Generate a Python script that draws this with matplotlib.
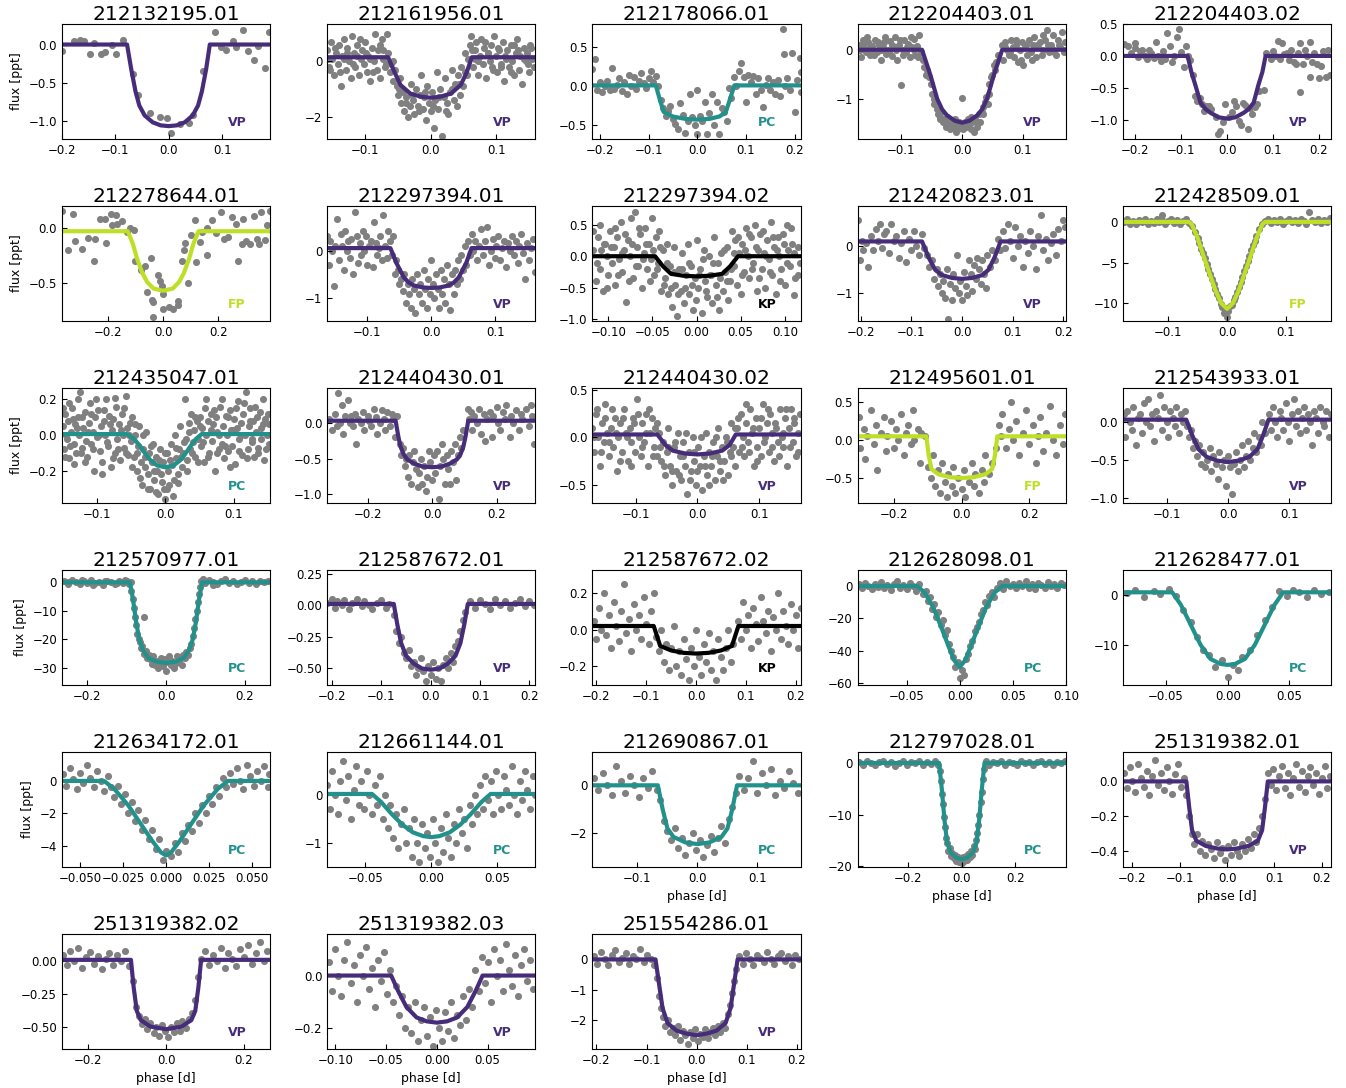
import numpy as np
import matplotlib.pyplot as plt
from matplotlib.ticker import MultipleLocator

# colours for the dispositions
cols = {'VP': '#472c7a', 'PC': '#21918c', 'FP': '#bddf26', 'KP': 'black'}

names = ['212132195.01', '212161956.01', '212178066.01', '212204403.01', '212204403.02',
         '212278644.01', '212297394.01', '212297394.02', '212420823.01', '212428509.01',
         '212435047.01', '212440430.01', '212440430.02', '212495601.01', '212543933.01',
         '212570977.01', '212587672.01', '212587672.02', '212628098.01', '212628477.01',
         '212634172.01', '212661144.01', '212690867.01', '212797028.01', '251319382.01',
         '251319382.02', '251319382.03', '251554286.01']
disp = ['VP', 'VP', 'PC', 'VP', 'VP', 'FP', 'VP', 'KP', 'VP', 'FP',
        'PC', 'VP', 'VP', 'FP', 'VP', 'PC', 'VP', 'KP', 'PC', 'PC',
        'PC', 'PC', 'PC', 'PC', 'VP', 'VP', 'VP', 'VP']

xlims = [(-0.2, 0.19), (-0.158, 0.16), (-0.215, 0.212), (-0.172, 0.171), (-0.227, 0.227),
         (-0.366, 0.387), (-0.163, 0.163), (-0.118, 0.118), (-0.206, 0.205), (-0.177, 0.177),
         (-0.151, 0.153), (-0.325, 0.32), (-0.17, 0.167), (-0.308, 0.308), (-0.171, 0.168),
         (-0.265, 0.265), (-0.21, 0.212), (-0.208, 0.21), (-0.096, 0.1), (-0.085, 0.084),
         (-0.0605, 0.0605), (-0.079, 0.079), (-0.175, 0.172), (-0.39, 0.39), (-0.22, 0.22),
         (-0.267, 0.267), (-0.108, 0.097), (-0.208, 0.208)]
ylims = [(-1.24, 0.27), (-2.8, 1.35), (-0.68, 0.8), (-1.8, 0.52), (-1.3, 0.5),
         (-0.845, 0.2), (-1.47, 0.93), (-1.03, 0.8), (-1.59, 0.84), (-12.2, 1.97),
         (-0.38, 0.265), (-1.12, 0.49), (-0.69, 0.52), (-0.83, 0.69), (-1.07, 0.45),
         (-36, 4.4), (-0.63, 0.28), (-0.305, 0.33), (-61, 10), (-18, 5),
         (-5.3, 1.8), (-1.5, 0.9), (-3.4, 1.4), (-20.2, 2.3), (-0.49, 0.17),
         (-0.67, 0.21), (-0.28, 0.16), (-2.95, 0.85)]
xsteps = [0.1, 0.1, 0.1, 0.1, 0.1, 0.2, 0.1, 0.05, 0.1, 0.1,
          0.1, 0.2, 0.1, 0.2, 0.1, 0.2, 0.1, 0.1, 0.05, 0.05,
          0.025, 0.05, 0.1, 0.2, 0.1, 0.2, 0.05, 0.1]
ysteps = [0.5, 2, 0.5, 1, 0.5, 0.5, 1, 0.5, 1, 5,
          0.2, 0.5, 0.5, 0.5, 0.5, 10, 0.25, 0.2, 20, 10,
          2, 1, 2, 10, 0.2, 0.25, 0.2, 1]

# model curves (phase, flux)
m01 = [(-0.2, 0), (-0.078, 0), (-0.07, -0.33), (-0.062, -0.62), (-0.055, -0.8), (-0.045, -0.93), (-0.03, -1.02),
       (-0.015, -1.06), (0, -1.07), (0.015, -1.06), (0.03, -1.02), (0.045, -0.93), (0.055, -0.8), (0.062, -0.62),
       (0.07, -0.33), (0.077, 0), (0.19, 0)]
m02 = [(-0.158, 0.15), (-0.065, 0.15), (-0.055, -0.4), (-0.046, -0.85), (-0.031, -1.16), (-0.015, -1.27), (0, -1.31),
       (0.015, -1.27), (0.031, -1.16), (0.046, -0.85), (0.055, -0.4), (0.063, 0.15), (0.16, 0.15)]
m03 = [(-0.215, 0.01), (-0.085, 0.01), (-0.077, -0.17), (-0.069, -0.33), (-0.05, -0.39), (-0.025, -0.42), (0, -0.43),
       (0.025, -0.42), (0.045, -0.39), (0.058, -0.34), (0.067, -0.17), (0.076, 0.01), (0.212, 0.01)]
m04 = [(-0.172, 0), (-0.066, 0), (-0.052, -0.52), (-0.041, -0.99), (-0.033, -1.2), (-0.025, -1.32), (-0.012, -1.43),
       (0, -1.47), (0.012, -1.43), (0.025, -1.32), (0.033, -1.2), (0.041, -0.99), (0.052, -0.52), (0.066, 0), (0.171, 0)]
m05 = [(-0.227, 0), (-0.086, 0), (-0.078, -0.25), (-0.069, -0.46), (-0.058, -0.73), (-0.047, -0.83), (-0.036, -0.89),
       (-0.018, -0.96), (0, -0.98), (0.018, -0.96), (0.036, -0.89), (0.047, -0.83), (0.058, -0.73), (0.068, -0.46),
       (0.077, -0.25), (0.084, 0), (0.227, 0)]
m06 = [(-0.366, -0.03), (-0.128, -0.03), (-0.11, -0.14), (-0.094, -0.28), (-0.075, -0.41), (-0.058, -0.49),
       (-0.035, -0.55), (0, -0.57), (0.035, -0.55), (0.058, -0.49), (0.075, -0.41), (0.094, -0.28), (0.11, -0.14),
       (0.128, -0.03), (0.387, -0.03)]
m07 = [(-0.163, 0.05), (-0.064, 0.05), (-0.055, -0.25), (-0.043, -0.56), (-0.035, -0.67), (-0.027, -0.73),
       (-0.013, -0.77), (0, -0.78), (0.013, -0.77), (0.027, -0.73), (0.035, -0.67), (0.043, -0.56), (0.055, -0.25),
       (0.063, 0.05), (0.163, 0.05)]
m08 = [(-0.118, 0), (-0.047, 0), (-0.038, -0.16), (-0.029, -0.28), (-0.015, -0.31), (0, -0.32), (0.015, -0.31),
       (0.029, -0.28), (0.038, -0.16), (0.047, 0), (0.118, 0)]
m09 = [(-0.206, 0.09), (-0.079, 0.09), (-0.066, -0.25), (-0.053, -0.51), (-0.04, -0.62), (-0.02, -0.68), (0, -0.7),
       (0.02, -0.68), (0.04, -0.62), (0.052, -0.51), (0.064, -0.25), (0.076, 0.09), (0.205, 0.09)]
m10 = [(-0.177, 0), (-0.065, 0), (-0.06, -0.3), (-0.05, -2.0), (-0.04, -4.2), (-0.03, -6.3), (-0.02, -8.4),
       (-0.01, -10.0), (0, -10.7), (0.01, -10.0), (0.02, -8.4), (0.03, -6.3), (0.04, -4.2), (0.05, -2.0),
       (0.06, -0.3), (0.065, 0), (0.177, 0)]
m11 = [(-0.151, 0.006), (-0.056, 0.006), (-0.046, -0.02), (-0.037, -0.06), (-0.03, -0.1), (-0.022, -0.14),
       (-0.012, -0.17), (0, -0.18), (0.012, -0.17), (0.022, -0.14), (0.03, -0.1), (0.037, -0.06), (0.045, -0.02),
       (0.053, 0.006), (0.153, 0.006)]
m12 = [(-0.325, 0.03), (-0.113, 0.03), (-0.105, -0.18), (-0.098, -0.33), (-0.088, -0.44), (-0.077, -0.51),
       (-0.055, -0.57), (-0.03, -0.61), (0, -0.62), (0.03, -0.61), (0.055, -0.57), (0.077, -0.51), (0.088, -0.44),
       (0.097, -0.33), (0.104, -0.18), (0.112, 0.03), (0.32, 0.03)]
m13 = [(-0.17, 0.03), (-0.065, 0.03), (-0.052, -0.08), (-0.04, -0.14), (-0.02, -0.17), (0, -0.18), (0.02, -0.17),
       (0.04, -0.14), (0.052, -0.08), (0.062, 0.03), (0.167, 0.03)]
m14 = [(-0.308, 0.05), (-0.105, 0.05), (-0.098, -0.2), (-0.09, -0.38), (-0.07, -0.45), (-0.035, -0.49), (0, -0.5),
       (0.035, -0.49), (0.07, -0.45), (0.09, -0.38), (0.098, -0.2), (0.105, 0.05), (0.308, 0.05)]
m15 = [(-0.171, 0.03), (-0.068, 0.03), (-0.058, -0.18), (-0.048, -0.36), (-0.035, -0.46), (-0.018, -0.51), (0, -0.53),
       (0.018, -0.51), (0.035, -0.46), (0.048, -0.36), (0.057, -0.18), (0.066, 0.03), (0.168, 0.03)]
m16 = [(-0.265, 0), (-0.092, 0), (-0.084, -6), (-0.076, -14), (-0.068, -20), (-0.058, -24), (-0.045, -26.5),
       (-0.025, -27.8), (0, -28.3), (0.025, -27.8), (0.045, -26.5), (0.058, -24), (0.068, -20), (0.076, -14),
       (0.084, -6), (0.092, 0), (0.265, 0)]
m17 = [(-0.21, 0.01), (-0.075, 0.01), (-0.068, -0.15), (-0.06, -0.3), (-0.05, -0.4), (-0.035, -0.46), (-0.018, -0.5),
       (0, -0.51), (0.018, -0.5), (0.035, -0.46), (0.05, -0.4), (0.06, -0.3), (0.068, -0.15), (0.075, 0.01),
       (0.212, 0.01)]
m18 = [(-0.208, 0.02), (-0.085, 0.02), (-0.072, -0.09), (-0.05, -0.115), (-0.025, -0.128), (0, -0.132),
       (0.025, -0.128), (0.05, -0.115), (0.072, -0.09), (0.085, 0.02), (0.21, 0.02)]
m19 = [(-0.096, 0), (-0.04, 0), (-0.033, -4), (-0.025, -13), (-0.017, -26), (-0.01, -38), (-0.005, -46), (0, -50),
       (0.005, -46), (0.01, -38), (0.017, -26), (0.025, -13), (0.033, -4), (0.04, 0), (0.1, 0)]
m20 = [(-0.085, 0.5), (-0.045, 0.5), (-0.038, -2), (-0.03, -6), (-0.022, -10), (-0.014, -12.8), (-0.006, -13.8),
       (0, -14), (0.006, -13.8), (0.014, -12.8), (0.022, -10), (0.03, -6), (0.038, -2), (0.045, 0.5), (0.084, 0.5)]
m21 = [(-0.0605, 0), (-0.036, 0), (-0.03, -0.5), (-0.022, -1.5), (-0.015, -2.6), (-0.008, -3.7), (-0.003, -4.4),
       (0, -4.6), (0.003, -4.4), (0.008, -3.7), (0.015, -2.6), (0.022, -1.5), (0.03, -0.5), (0.036, 0), (0.0605, 0)]
m22 = [(-0.079, 0.02), (-0.045, 0.02), (-0.038, -0.15), (-0.03, -0.4), (-0.022, -0.62), (-0.014, -0.78),
       (-0.006, -0.86), (0, -0.88), (0.006, -0.86), (0.014, -0.78), (0.022, -0.62), (0.03, -0.4), (0.038, -0.15),
       (0.045, 0.02), (0.079, 0.02)]
m23 = [(-0.175, 0), (-0.066, 0), (-0.058, -1.0), (-0.05, -1.8), (-0.04, -2.15), (-0.02, -2.38), (0, -2.45),
       (0.02, -2.38), (0.04, -2.15), (0.05, -1.8), (0.058, -1.0), (0.066, 0), (0.172, 0)]
m24 = [(-0.39, 0.1), (-0.085, 0.1), (-0.075, -5), (-0.065, -11), (-0.055, -15.5), (-0.04, -17.5), (-0.02, -18.4),
       (0, -18.7), (0.02, -18.4), (0.04, -17.5), (0.055, -15.5), (0.065, -11), (0.075, -5), (0.085, 0.1), (0.39, 0.1)]
m25 = [(-0.22, 0), (-0.086, 0), (-0.08, -0.15), (-0.074, -0.28), (-0.065, -0.34), (-0.045, -0.37), (-0.02, -0.385),
       (0, -0.39), (0.02, -0.385), (0.045, -0.37), (0.065, -0.34), (0.074, -0.28), (0.08, -0.15), (0.086, 0),
       (0.22, 0)]
m26 = [(-0.267, 0.01), (-0.09, 0.01), (-0.083, -0.2), (-0.075, -0.38), (-0.065, -0.45), (-0.04, -0.5), (0, -0.52),
       (0.04, -0.5), (0.065, -0.45), (0.075, -0.38), (0.083, -0.2), (0.09, 0.01), (0.267, 0.01)]
m27 = [(-0.108, 0.0), (-0.045, 0.0), (-0.038, -0.06), (-0.03, -0.12), (-0.02, -0.16), (-0.01, -0.175), (0, -0.18),
       (0.01, -0.175), (0.02, -0.16), (0.03, -0.12), (0.038, -0.06), (0.045, 0.0), (0.097, 0.0)]
m28 = [(-0.208, 0), (-0.082, 0), (-0.075, -0.8), (-0.068, -1.6), (-0.058, -2.1), (-0.04, -2.35), (-0.02, -2.45),
       (0, -2.5), (0.02, -2.45), (0.04, -2.35), (0.058, -2.1), (0.068, -1.6), (0.075, -0.8), (0.082, 0), (0.208, 0)]

# folded photometry (phase, flux)
p01 = [(-0.2, -0.09), (-0.178, 0.04), (-0.167, 0.06), (-0.158, 0.05), (-0.147, -0.13), (-0.139, 0.02), (-0.127, -0.13),
       (-0.119, -0.1), (-0.106, -0.01), (-0.098, -0.12), (-0.085, 0.06), (-0.066, -0.38), (-0.058, -0.66), (-0.035, -0.9),
       (-0.017, -0.95), (-0.003, -0.96), (0.004, -1.16), (0.022, -1.04), (0.038, -1.03), (0.045, -0.92), (0.065, -0.35),
       (0.086, 0.17), (0.098, -0.03), (0.107, -0.07), (0.12, 0.05), (0.127, -0.03), (0.14, 0.19), (0.148, -0.09),
       (0.168, -0.02), (0.16, -0.2), (0.18, -0.31), (0.188, 0.16)]
p02 = [(-0.158, 0.4), (-0.155, -0.2), (-0.152, 0.7), (-0.15, 0.1), (-0.148, -0.5), (-0.145, 0.3), (-0.142, -0.1),
       (-0.14, 0.6), (-0.137, -0.9), (-0.135, 0.2), (-0.132, 0.8), (-0.13, -0.3), (-0.127, 0.5), (-0.125, 0.0),
       (-0.122, -0.6), (-0.12, 0.9), (-0.117, 0.3), (-0.115, -0.2), (-0.112, 0.6), (-0.11, -0.5), (-0.107, 0.1),
       (-0.105, 0.4), (-0.102, -0.1), (-0.1, 0.7), (-0.097, -0.4), (-0.095, 0.2), (-0.092, -0.7), (-0.09, 0.5),
       (-0.087, 0.0), (-0.085, 1.0), (-0.082, -0.3), (-0.08, 0.4), (-0.077, -0.6), (-0.075, 0.8), (-0.072, 0.1),
       (-0.07, -0.2), (-0.067, 1.0), (-0.065, 0.3), (-0.062, -0.4), (-0.06, -0.1), (-0.057, -0.7), (-0.055, -0.3),
       (-0.052, -0.9), (-0.05, -1.2), (-0.047, -0.6), (-0.045, -1.5), (-0.042, -1.1), (-0.04, -1.8), (-0.037, -1.3),
       (-0.035, -2.0), (-0.032, -1.6), (-0.03, -0.8), (-0.027, -1.4), (-0.025, -1.9), (-0.022, -1.0), (-0.02, -1.6),
       (-0.017, -1.2), (-0.015, -0.5), (-0.012, -1.7), (-0.01, -1.3), (-0.007, -2.1), (-0.005, -0.9), (-0.002, -1.5),
       (0.0, -1.8), (0.002, -1.1), (0.005, -2.4), (0.007, -1.4), (0.01, -0.4), (0.012, -1.7), (0.015, -1.0),
       (0.017, -2.7), (0.02, -1.3), (0.022, -0.6), (0.025, -1.5), (0.027, -1.9), (0.03, -1.1), (0.032, -0.3),
       (0.035, -1.4), (0.037, -0.8), (0.04, -1.6), (0.042, -0.5), (0.045, -1.2), (0.047, -0.2), (0.05, -0.9),
       (0.052, 0.3), (0.055, -0.5), (0.057, 0.1), (0.06, 0.6), (0.062, 0.9), (0.065, -0.2), (0.067, 0.4), (0.07, 0.7),
       (0.072, -0.5), (0.075, 0.2), (0.077, 0.8), (0.08, -0.1), (0.082, 0.5), (0.085, -0.6), (0.087, 0.3), (0.09, 0.0),
       (0.092, 0.6), (0.095, -0.3), (0.097, 0.9), (0.1, 0.2), (0.102, -0.4), (0.105, 0.4), (0.107, -0.1), (0.11, 0.7),
       (0.112, -0.7), (0.115, 0.1), (0.117, 0.4), (0.12, -0.2), (0.122, 0.6), (0.125, 0.0), (0.127, -0.5), (0.13, 0.3),
       (0.132, 0.8), (0.135, -0.3), (0.137, 0.2), (0.14, -0.8), (0.142, 0.5), (0.145, 0.0), (0.147, 0.3), (0.15, -0.4),
       (0.152, 0.6), (0.155, 0.1), (0.158, -0.2),
       (-0.156, 0.1), (-0.146, 0.5), (-0.138, -0.4), (-0.128, 0.3), (-0.118, -0.1), (-0.108, 0.8), (-0.098, 0.3),
       (-0.088, -0.4), (-0.078, 0.6), (-0.068, -0.1), (-0.058, 0.0), (-0.048, -1.0), (-0.038, -1.5), (-0.028, -1.2),
       (-0.018, -1.8), (-0.008, -1.1), (0.003, -1.6), (0.013, -1.3), (0.023, -1.8), (0.033, -1.0), (0.043, -0.8),
       (0.053, -0.4), (0.063, 0.4), (0.073, 0.0), (0.083, 0.7), (0.093, -0.2), (0.103, 0.5), (0.113, 0.2),
       (0.123, -0.4), (0.133, 0.4), (0.143, 0.1), (0.153, 0.5), (-0.153, -0.3), (-0.133, 0.1), (-0.113, 0.2),
       (-0.093, 0.1), (-0.073, 0.4), (0.068, 0.1), (0.088, 0.3), (0.108, -0.2), (0.128, 0.6), (0.148, -0.1)]
p03 = [(-0.215, 0.22), (-0.21, 0.35), (-0.205, -0.05), (-0.2, 0.05), (-0.195, -0.08), (-0.19, 0.0), (-0.185, 0.07),
       (-0.18, -0.05), (-0.175, 0.23), (-0.17, -0.03), (-0.165, 0.02), (-0.16, 0.1), (-0.155, -0.06), (-0.15, 0.05),
       (-0.145, -0.1), (-0.14, 0.15), (-0.135, 0.0), (-0.13, 0.12), (-0.125, -0.04), (-0.12, 0.07), (-0.115, 0.17),
       (-0.11, 0.04), (-0.105, -0.02), (-0.1, 0.1), (-0.095, 0.19), (-0.09, 0.05), (-0.085, 0.13), (-0.08, 0.0),
       (-0.075, -0.18), (-0.07, -0.28), (-0.065, -0.38), (-0.06, -0.32), (-0.055, -0.25), (-0.05, -0.42),
       (-0.045, -0.48), (-0.04, -0.55), (-0.035, -0.22), (-0.03, -0.37), (-0.025, -0.6), (-0.02, -0.45), (-0.015, -0.1),
       (-0.01, -0.4), (-0.005, -0.5), (0.0, -0.05), (0.0, -0.62), (0.005, -0.38), (0.01, -0.45), (0.015, -0.2),
       (0.02, -0.62), (0.025, -0.35), (0.03, -0.1), (0.035, -0.5), (0.04, -0.2), (0.045, -0.62), (0.05, -0.28),
       (0.055, -0.33), (0.06, -0.45), (0.065, -0.02), (0.07, -0.15), (0.075, 0.12), (0.08, 0.0), (0.085, 0.2),
       (0.09, 0.3), (0.095, 0.12), (0.1, -0.2), (0.105, 0.15), (0.11, 0.05), (0.115, 0.13), (0.12, -0.1), (0.125, 0.1),
       (0.13, -0.05), (0.135, -0.27), (0.14, 0.02), (0.145, 0.1), (0.15, -0.05), (0.155, 0.05), (0.16, -0.1),
       (0.165, 0.08), (0.17, -0.12), (0.175, 0.73), (0.178, 0.42), (0.18, 0.0), (0.185, 0.1), (0.19, -0.05),
       (0.195, 0.43), (0.2, -0.33), (0.205, 0.08), (0.21, 0.36), (0.212, 0.18), (0.212, -0.08)]
p04 = [(-0.17, 0.1), (-0.167, -0.15), (-0.164, 0.2), (-0.161, 0.02), (-0.158, -0.05), (-0.155, 0.15), (-0.152, -0.1),
       (-0.149, 0.08), (-0.146, 0.0), (-0.143, 0.2), (-0.14, -0.05), (-0.137, 0.1), (-0.134, -0.2), (-0.131, 0.05),
       (-0.128, 0.15), (-0.125, -0.08), (-0.122, 0.0), (-0.119, 0.18), (-0.116, -0.12), (-0.113, 0.05), (-0.11, 0.25),
       (-0.107, -0.2), (-0.104, 0.1), (-0.101, -0.72), (-0.098, 0.0), (-0.095, 0.2), (-0.092, -0.05), (-0.089, 0.12),
       (-0.086, -0.15), (-0.083, 0.05), (-0.08, 0.22), (-0.077, -0.1), (-0.074, 0.08), (-0.071, 0.3), (-0.068, -0.05),
       (-0.065, -0.2), (-0.062, -0.35), (-0.058, -0.4), (-0.055, -0.55), (-0.052, -0.7), (-0.05, -0.9), (-0.047, -1.1),
       (-0.045, -1.05), (-0.042, -1.2), (-0.04, -1.3), (-0.037, -1.35), (-0.035, -1.25), (-0.032, -1.45), (-0.03, -1.4),
       (-0.027, -1.55), (-0.025, -1.35), (-0.022, -1.5), (-0.02, -1.6), (-0.017, -1.45), (-0.015, -1.55),
       (-0.012, -1.4), (-0.01, -1.65), (-0.007, -1.5), (-0.005, -1.45), (-0.002, -1.55), (0.0, -0.98), (0.002, -1.6),
       (0.005, -1.45), (0.007, -1.55), (0.01, -1.4), (0.012, -1.5), (0.015, -1.35), (0.017, -1.45), (0.02, -1.65),
       (0.022, -1.4), (0.025, -1.55), (0.027, -1.3), (0.03, -1.45), (0.032, -1.25), (0.035, -1.15), (0.037, -1.05),
       (0.04, -0.95), (0.042, -1.1), (0.045, -0.7), (0.048, -0.55), (0.05, -0.5), (0.053, -0.3), (0.056, -0.25),
       (0.059, -0.1), (0.065, 0.1), (0.068, -0.2), (0.071, 0.15), (0.074, 0.0), (0.077, -0.1), (0.08, 0.2),
       (0.083, 0.05), (0.086, -0.15), (0.089, 0.1), (0.092, -0.25), (0.095, 0.0), (0.098, 0.15), (0.101, -0.3),
       (0.104, 0.05), (0.107, -0.1), (0.11, 0.2), (0.113, -0.05), (0.116, 0.1), (0.119, 0.25), (0.122, -0.15),
       (0.125, 0.05), (0.128, 0.15), (0.131, -0.1), (0.134, 0.0), (0.137, 0.2), (0.14, 0.4), (0.143, -0.05),
       (0.146, 0.1), (0.149, 0.3), (0.152, 0.0), (0.155, -0.1), (0.158, 0.2), (0.161, 0.05), (0.164, 0.35),
       (0.167, -0.05), (0.17, 0.15),
       (-0.169, 0.0), (-0.163, 0.1), (-0.157, 0.25), (-0.151, 0.05), (-0.145, -0.1), (-0.139, 0.15), (-0.133, 0.0),
       (-0.127, 0.25), (-0.121, -0.05), (-0.115, 0.1), (-0.109, 0.0), (-0.103, 0.2), (-0.097, -0.1), (-0.091, 0.05),
       (-0.085, 0.25), (-0.079, 0.0), (-0.073, -0.15), (-0.06, -0.5), (-0.046, -1.0), (-0.036, -1.4), (-0.026, -1.4),
       (-0.016, -1.5), (-0.006, -1.6), (0.004, -1.5), (0.014, -1.6), (0.024, -1.45), (0.034, -1.3), (0.044, -0.9),
       (0.054, -0.4), (0.07, 0.05), (0.079, -0.05), (0.088, 0.2), (0.097, -0.2), (0.106, 0.1), (0.115, -0.2),
       (0.124, 0.1), (0.133, 0.3), (0.142, 0.1), (0.151, -0.05), (0.16, 0.1), (0.169, 0.0)]
p05 = [(-0.225, 0.18), (-0.215, 0.15), (-0.21, 0.05), (-0.2, 0.12), (-0.2, 0.2), (-0.195, -0.02), (-0.19, 0.08),
       (-0.185, 0.1), (-0.18, 0.0), (-0.175, -0.05), (-0.17, 0.1), (-0.165, 0.05), (-0.16, -0.03), (-0.155, 0.22),
       (-0.15, 0.0), (-0.145, -0.08), (-0.14, 0.07), (-0.135, -0.05), (-0.13, 0.36), (-0.125, 0.15), (-0.12, -0.1),
       (-0.115, 0.0), (-0.11, 0.29), (-0.105, 0.42), (-0.1, 0.06), (-0.095, -0.18), (-0.09, 0.16), (-0.085, 0.0),
       (-0.08, -0.06), (-0.075, -0.3), (-0.07, -0.62), (-0.065, -0.7), (-0.06, -0.66), (-0.055, -0.75), (-0.05, -0.86),
       (-0.045, -0.78), (-0.04, -0.78), (-0.035, -0.83), (-0.025, -0.96), (-0.02, -1.22), (-0.015, -1.18),
       (-0.01, -1.04), (-0.005, -0.75), (0.005, -0.95), (0.01, -0.88), (0.015, -0.7), (0.02, -0.78), (0.025, -1.02),
       (0.03, -1.08), (0.035, -0.73), (0.04, -0.76), (0.045, -1.15), (0.05, -0.82), (0.055, -0.9), (0.06, -0.8),
       (0.065, -0.75), (0.07, -0.55), (0.08, -0.53), (0.085, 0.05), (0.095, -0.05), (0.1, 0.08), (0.105, 0.0),
       (0.11, 0.24), (0.115, -0.05), (0.12, 0.2), (0.125, 0.03), (0.13, 0.05), (0.135, -0.07), (0.14, 0.1),
       (0.145, -0.1), (0.15, -0.12), (0.155, 0.05), (0.16, -0.56), (0.16, 0.2), (0.165, -0.13), (0.17, 0.1),
       (0.175, 0.0), (0.18, 0.22), (0.18, -0.33), (0.185, -0.1), (0.19, 0.05), (0.195, -0.12), (0.2, -0.35),
       (0.205, -0.15), (0.21, 0.08), (0.215, -0.33), (0.22, 0.1), (0.225, -0.3)]
p06 = [(-0.366, 0.15), (-0.345, -0.2), (-0.325, 0.13), (-0.32, -0.12), (-0.295, -0.19), (-0.27, -0.09), (-0.25, -0.3),
       (-0.245, -0.1), (-0.23, 0.08), (-0.21, 0.08), (-0.205, -0.14), (-0.19, 0.13), (-0.185, 0.03), (-0.17, 0.12),
       (-0.165, 0.04), (-0.15, 0.06), (-0.13, -0.04), (-0.12, 0.0), (-0.105, -0.02), (-0.1, -0.3), (-0.08, -0.38),
       (-0.065, -0.35), (-0.06, -0.58), (-0.045, -0.27), (-0.04, -0.65), (-0.035, -0.67), (-0.035, -0.81),
       (-0.02, -0.43), (-0.01, -0.48), (-0.005, -0.53), (0.0, -0.6), (0.0, -0.74), (0.02, -0.72), (0.035, -0.74),
       (0.055, -0.66), (0.055, -0.7), (0.07, -0.3), (0.075, -0.2), (0.08, -0.14), (0.09, -0.5), (0.1, -0.06),
       (0.115, 0.07), (0.12, -0.31), (0.135, -0.13), (0.14, -0.04), (0.16, 0.0), (0.16, -0.25), (0.175, 0.07),
       (0.19, -0.05), (0.21, 0.14), (0.22, -0.1), (0.235, -0.08), (0.25, 0.1), (0.265, 0.04), (0.27, -0.3),
       (0.285, -0.15), (0.29, 0.08), (0.3, -0.12), (0.315, -0.15), (0.33, 0.11), (0.34, -0.1), (0.345, -0.15),
       (0.355, 0.14), (0.37, -0.11), (0.375, 0.03), (0.385, 0.15)]
p07 = [(-0.163, 0.3), (-0.16, -0.3), (-0.158, 0.2), (-0.155, 0.0), (-0.152, -0.75), (-0.15, 0.1), (-0.148, 0.65),
       (-0.145, -0.2), (-0.142, 0.35), (-0.14, 0.1), (-0.137, -0.4), (-0.135, 0.4), (-0.132, 0.0), (-0.13, 0.2),
       (-0.127, -0.15), (-0.125, 0.25), (-0.122, -0.5), (-0.12, 0.8), (-0.117, 0.3), (-0.115, -0.25), (-0.112, 0.15),
       (-0.11, -0.1), (-0.107, 0.4), (-0.105, 0.0), (-0.102, 0.3), (-0.1, -0.3), (-0.097, 0.1), (-0.095, 0.2),
       (-0.092, -0.35), (-0.09, 0.6), (-0.087, 0.15), (-0.085, -0.1), (-0.082, 0.05), (-0.08, 0.3), (-0.077, -0.2),
       (-0.075, 0.75), (-0.072, 0.1), (-0.07, -0.15), (-0.067, 0.4), (-0.065, 0.2), (-0.062, -0.1), (-0.06, 0.3),
       (-0.057, -0.5), (-0.055, -0.2), (-0.052, -0.4), (-0.05, -0.7), (-0.047, -0.6), (-0.045, -0.85), (-0.042, -0.5),
       (-0.04, -1.1), (-0.037, -0.7), (-0.035, -0.9), (-0.032, -1.2), (-0.03, -0.6), (-0.027, -0.8), (-0.025, -1.3),
       (-0.022, -0.5), (-0.02, -0.9), (-0.017, -0.7), (-0.015, -1.1), (-0.012, -0.4), (-0.01, -0.8), (-0.007, -1.2),
       (-0.005, -0.6), (-0.002, -0.9), (0.0, -0.2), (0.002, -0.7), (0.005, -1.0), (0.007, -0.5), (0.01, -0.8),
       (0.012, -1.2), (0.015, -0.4), (0.017, -0.9), (0.02, -0.6), (0.022, -1.1), (0.025, -0.3), (0.027, -0.7),
       (0.03, -1.25), (0.032, -0.5), (0.035, -0.9), (0.037, -0.4), (0.04, -0.7), (0.042, -0.2), (0.045, -0.6),
       (0.047, -0.1), (0.05, -0.4), (0.052, 0.1), (0.055, -0.3), (0.057, 0.2), (0.06, -0.1), (0.063, 0.35),
       (0.066, 0.0), (0.069, 0.2), (0.072, -0.2), (0.075, 0.1), (0.078, 0.45), (0.081, -0.1), (0.084, 0.2),
       (0.087, 0.5), (0.09, -0.3), (0.093, 0.0), (0.096, 0.25), (0.099, -0.15), (0.102, 0.1), (0.105, 0.3),
       (0.108, -0.2), (0.111, 0.05), (0.114, 0.2), (0.117, -0.35), (0.12, 0.15), (0.123, 0.0), (0.126, 0.3),
       (0.129, -0.1), (0.132, 0.2), (0.135, -0.25), (0.138, 0.1), (0.141, 0.35), (0.144, -0.05), (0.147, -0.6),
       (0.15, 0.15), (0.153, -0.2), (0.156, 0.05), (0.159, 0.25), (0.162, -0.45)]
p08 = [(-0.117, 0.1), (-0.114, -0.4), (-0.112, 0.3), (-0.11, -0.2), (-0.108, 0.1), (-0.106, -0.55), (-0.104, 0.2),
       (-0.102, 0.0), (-0.1, -0.3), (-0.098, 0.4), (-0.096, -0.1), (-0.094, 0.15), (-0.092, -0.45), (-0.09, 0.3),
       (-0.088, -0.05), (-0.086, 0.55), (-0.084, -0.25), (-0.082, 0.1), (-0.08, -0.72), (-0.078, 0.25), (-0.076, 0.0),
       (-0.074, 0.6), (-0.072, -0.35), (-0.07, 0.7), (-0.068, 0.15), (-0.066, -0.15), (-0.064, 0.35), (-0.062, -0.5),
       (-0.06, 0.05), (-0.058, 0.45), (-0.056, -0.2), (-0.054, 0.2), (-0.052, -0.05), (-0.05, 0.6), (-0.048, -0.3),
       (-0.046, 0.3), (-0.044, -0.1), (-0.042, 0.4), (-0.04, -0.55), (-0.038, 0.1), (-0.036, -0.35), (-0.034, 0.2),
       (-0.032, -0.6), (-0.03, -0.15), (-0.028, -0.8), (-0.026, 0.15), (-0.024, -0.45), (-0.022, -0.95), (-0.02, -0.2),
       (-0.018, -0.55), (-0.016, 0.05), (-0.014, -0.75), (-0.012, -0.3), (-0.01, 0.2), (-0.008, -0.6), (-0.006, -0.15),
       (-0.004, -0.85), (-0.002, -0.35), (0.0, 0.25), (0.002, -0.5), (0.004, -0.2), (0.006, -0.9), (0.008, 0.1),
       (0.01, -0.4), (0.012, -0.65), (0.014, 0.0), (0.016, -0.3), (0.018, -0.75), (0.02, 0.3), (0.022, -0.45),
       (0.024, -0.1), (0.026, -0.85), (0.028, 0.05), (0.03, -0.55), (0.032, -0.25), (0.034, 0.15), (0.036, -0.7),
       (0.038, -0.4), (0.04, 0.4), (0.042, -0.15), (0.044, 0.25), (0.046, -0.45), (0.048, 0.05), (0.05, -0.6),
       (0.052, 0.2), (0.054, -0.25), (0.056, 0.45), (0.058, 0.0), (0.06, -0.35), (0.062, 0.3), (0.064, -0.1),
       (0.066, 0.5), (0.068, -0.55), (0.07, 0.1), (0.072, 0.35), (0.074, -0.2), (0.076, 0.05), (0.078, -0.5),
       (0.08, 0.25), (0.082, -0.05), (0.084, 0.55), (0.086, -0.3), (0.088, 0.15), (0.09, -0.6), (0.092, 0.3),
       (0.094, 0.0), (0.096, -0.2), (0.098, 0.35), (0.1, -0.45), (0.102, 0.5), (0.104, 0.1), (0.106, -0.15),
       (0.108, 0.2), (0.11, -0.62), (0.112, -0.35), (0.115, 0.15), (0.117, -0.1),
       (-0.117, 0.4), (-0.113, -0.1), (-0.109, 0.5), (-0.105, 0.2), (-0.101, -0.5), (-0.097, 0.15), (-0.093, 0.45),
       (-0.089, -0.3), (-0.085, 0.05), (-0.081, 0.35), (-0.077, -0.4), (-0.073, 0.2), (-0.069, -0.15), (-0.065, 0.45),
       (-0.061, -0.05), (-0.057, 0.2), (-0.053, -0.4), (-0.049, 0.1), (-0.045, -0.2), (-0.041, 0.15), (-0.037, -0.45),
       (-0.033, -0.1), (-0.029, -0.5), (-0.025, -0.25), (-0.021, -0.6), (-0.017, -0.2), (-0.013, -0.5), (-0.009, -0.1),
       (-0.005, -0.45), (-0.001, -0.7), (0.003, -0.3), (0.007, -0.05), (0.011, -0.55), (0.015, -0.3), (0.019, -0.1),
       (0.023, -0.65), (0.027, -0.35), (0.031, 0.1), (0.035, -0.4), (0.039, -0.2), (0.043, 0.05), (0.047, 0.3),
       (0.051, -0.3), (0.055, 0.1), (0.059, 0.35), (0.063, -0.2), (0.067, 0.15), (0.071, -0.35), (0.075, 0.4),
       (0.079, 0.0), (0.083, -0.25), (0.087, 0.3), (0.091, 0.1), (0.095, -0.4), (0.099, 0.2), (0.103, -0.1),
       (0.107, 0.45), (0.111, 0.05), (0.115, -0.3)]
p09 = [(-0.205, 0.55), (-0.202, -0.3), (-0.198, 0.1), (-0.195, -0.1), (-0.19, 0.05), (-0.185, -0.45), (-0.18, 0.2),
       (-0.175, -0.1), (-0.17, 0.35), (-0.165, 0.1), (-0.162, 0.45), (-0.158, -0.05), (-0.155, 0.25), (-0.15, 0.3),
       (-0.145, -0.15), (-0.14, 0.45), (-0.135, 0.1), (-0.13, 0.2), (-0.125, -0.25), (-0.12, 0.05), (-0.115, 0.3),
       (-0.11, -0.35), (-0.105, 0.15), (-0.1, -0.1), (-0.095, 0.3), (-0.09, 0.0), (-0.085, -0.2), (-0.08, 0.25),
       (-0.075, -0.05), (-0.07, -0.2), (-0.065, -0.45), (-0.06, -0.3), (-0.055, -0.7), (-0.05, -0.5), (-0.047, -0.85),
       (-0.044, -0.6), (-0.04, -1.0), (-0.037, -0.75), (-0.034, -1.1), (-0.03, -0.5), (-0.027, -1.55), (-0.024, -0.8),
       (-0.02, -1.15), (-0.017, -0.6), (-0.014, -0.9), (-0.01, -0.2), (-0.007, -1.0), (-0.004, -0.75), (0.0, -1.15),
       (0.004, -0.55), (0.007, -0.85), (0.01, -1.05), (0.014, -0.3), (0.017, -0.6), (0.02, -0.95), (0.024, -0.4),
       (0.027, -0.7), (0.03, -0.25), (0.034, -0.5), (0.037, -0.8), (0.04, -0.3), (0.044, -0.6), (0.047, -0.9),
       (0.05, -0.2), (0.055, -0.45), (0.06, -0.1), (0.065, -0.3), (0.07, 0.15), (0.075, -0.1), (0.08, 0.3),
       (0.085, -0.05), (0.09, 0.45), (0.095, 0.1), (0.1, -0.25), (0.105, 0.4), (0.11, 0.0), (0.115, 0.2),
       (0.12, -0.45), (0.125, 0.1), (0.13, -0.15), (0.135, 0.3), (0.14, 0.0), (0.145, -0.5), (0.15, 0.2),
       (0.155, 0.65), (0.16, -0.1), (0.165, 0.15), (0.17, -0.3), (0.175, 0.05), (0.18, 0.25), (0.185, -0.2),
       (0.19, 0.35), (0.195, 0.1), (0.2, 0.55), (0.204, 0.4)]
p10 = [(-0.175, 0.0), (-0.17, 0.3), (-0.165, -0.2), (-0.16, 0.1), (-0.155, -0.3), (-0.15, 0.2), (-0.145, 0.0),
       (-0.14, 0.3), (-0.135, -0.2), (-0.13, 0.1), (-0.125, -0.1), (-0.12, 0.4), (-0.115, 0.0), (-0.11, 0.2),
       (-0.105, -0.3), (-0.1, 0.1), (-0.095, 0.3), (-0.09, -0.1), (-0.085, 0.2), (-0.08, -0.2), (-0.075, 0.1),
       (-0.07, 0.3), (-0.065, -0.1), (-0.06, -0.5), (-0.055, -1.2), (-0.05, -2.0), (-0.047, -2.6), (-0.044, -3.3),
       (-0.041, -3.8), (-0.038, -4.5), (-0.035, -5.2), (-0.032, -5.8), (-0.029, -6.4), (-0.026, -7.0), (-0.023, -7.6),
       (-0.02, -8.3), (-0.017, -8.9), (-0.014, -9.4), (-0.011, -10.1), (-0.008, -10.5), (-0.005, -11.2),
       (-0.002, -10.6), (0.0, -11.7), (0.002, -11.0), (0.005, -10.4), (0.008, -10.2), (0.011, -9.6), (0.014, -9.2),
       (0.017, -8.6), (0.02, -8.0), (0.023, -7.4), (0.026, -6.8), (0.029, -6.1), (0.032, -5.4), (0.035, -4.8),
       (0.038, -4.2), (0.041, -3.5), (0.044, -2.9), (0.047, -2.3), (0.05, -1.7), (0.055, -0.9), (0.06, -0.3),
       (0.065, 0.1), (0.07, 0.3), (0.075, -0.1), (0.08, 0.2), (0.085, 0.0), (0.09, 0.3), (0.095, -0.2), (0.1, 0.1),
       (0.105, 0.4), (0.11, 0.0), (0.115, 0.2), (0.12, -0.1), (0.125, 0.3), (0.13, 0.1), (0.135, -0.2), (0.14, 1.2),
       (0.145, 0.2), (0.15, 0.0), (0.155, 0.3), (0.16, -0.1), (0.165, 0.2), (0.17, 0.0), (0.175, 0.5), (-0.11, 0.9)]
p11 = [(-0.15, 0.05), (-0.148, -0.08), (-0.146, 0.12), (-0.144, -0.02), (-0.142, 0.08), (-0.14, -0.13),
       (-0.138, 0.02), (-0.136, 0.15), (-0.134, -0.05), (-0.132, 0.06), (-0.13, -0.1), (-0.128, 0.1), (-0.126, 0.0),
       (-0.124, 0.24), (-0.122, -0.07), (-0.12, 0.04), (-0.118, 0.13), (-0.116, -0.03), (-0.114, -0.12),
       (-0.112, 0.07), (-0.11, 0.18), (-0.108, -0.05), (-0.106, 0.02), (-0.104, -0.2), (-0.102, 0.1), (-0.1, -0.01),
       (-0.098, 0.14), (-0.096, -0.09), (-0.094, 0.05), (-0.092, -0.15), (-0.09, 0.08), (-0.088, 0.0), (-0.086, 0.2),
       (-0.084, -0.06), (-0.082, 0.11), (-0.08, -0.18), (-0.078, 0.03), (-0.076, 0.09), (-0.074, -0.1),
       (-0.072, 0.16), (-0.07, -0.02), (-0.068, 0.06), (-0.066, -0.14), (-0.064, 0.12), (-0.062, 0.0), (-0.06, -0.07),
       (-0.058, 0.22), (-0.056, 0.04), (-0.054, -0.11), (-0.052, 0.07), (-0.05, -0.03), (-0.048, 0.1),
       (-0.046, -0.12), (-0.044, 0.0), (-0.042, -0.2), (-0.04, -0.06), (-0.038, 0.05), (-0.036, -0.15),
       (-0.034, -0.28), (-0.032, -0.08), (-0.03, -0.18), (-0.028, 0.02), (-0.026, -0.22), (-0.024, -0.1),
       (-0.022, -0.3), (-0.02, -0.15), (-0.018, -0.05), (-0.016, -0.25), (-0.014, -0.12), (-0.012, -0.2),
       (-0.01, -0.33), (-0.008, -0.08), (-0.006, -0.22), (-0.004, -0.15), (-0.002, -0.3), (0.0, -0.36),
       (0.002, -0.1), (0.004, -0.2), (0.006, -0.28), (0.008, -0.05), (0.01, -0.17), (0.012, -0.25), (0.014, 0.0),
       (0.016, -0.13), (0.018, -0.22), (0.02, -0.08), (0.022, 0.05), (0.024, -0.18), (0.026, -0.1), (0.028, 0.2),
       (0.03, -0.02), (0.032, -0.14), (0.034, 0.07), (0.036, -0.08), (0.038, 0.12), (0.04, -0.04), (0.042, 0.03),
       (0.044, -0.12), (0.046, 0.08), (0.048, -0.02), (0.05, 0.1), (0.052, -0.06), (0.054, 0.04), (0.056, -0.15),
       (0.058, 0.15), (0.06, 0.0), (0.062, 0.08), (0.064, -0.1), (0.066, 0.12), (0.068, -0.03), (0.07, 0.06),
       (0.072, -0.2), (0.074, 0.1), (0.076, 0.02), (0.078, -0.08), (0.08, 0.16), (0.082, -0.05), (0.084, 0.05),
       (0.086, -0.13), (0.088, 0.11), (0.09, 0.0), (0.092, -0.09), (0.094, 0.14), (0.096, 0.03), (0.098, -0.06),
       (0.1, 0.09), (0.102, -0.16), (0.104, 0.04), (0.106, 0.19), (0.108, -0.02), (0.11, 0.07), (0.112, -0.11),
       (0.114, 0.12), (0.116, 0.0), (0.118, 0.24), (0.12, -0.08), (0.122, 0.05), (0.124, 0.15), (0.126, -0.04),
       (0.128, 0.08), (0.13, -0.12), (0.132, 0.02), (0.134, 0.1), (0.136, -0.07), (0.138, 0.13), (0.14, -0.02),
       (0.142, 0.06), (0.144, -0.14), (0.146, 0.09), (0.148, 0.0), (0.15, 0.12), (0.152, -0.05),
       (-0.149, 0.15), (-0.147, -0.12), (-0.145, 0.0), (-0.141, 0.18), (-0.139, -0.06), (-0.135, 0.09),
       (-0.133, -0.16), (-0.129, 0.04), (-0.127, 0.2), (-0.123, -0.1), (-0.121, 0.1), (-0.117, -0.15), (-0.113, 0.02),
       (-0.109, 0.12), (-0.105, -0.08), (-0.101, 0.2), (-0.097, 0.0), (-0.093, -0.22), (-0.089, 0.14), (-0.085, -0.04),
       (-0.081, 0.06), (-0.077, -0.13), (-0.073, 0.21), (-0.069, -0.08), (-0.065, 0.03), (-0.061, 0.15),
       (-0.057, -0.1), (-0.053, 0.0), (-0.049, -0.18), (-0.045, 0.06), (-0.041, -0.1), (-0.037, -0.24),
       (-0.033, 0.0), (-0.029, -0.12), (-0.025, -0.3), (-0.021, -0.06), (-0.017, -0.2), (-0.013, -0.32),
       (-0.009, -0.14), (-0.005, -0.26), (-0.001, -0.1), (0.003, -0.3), (0.007, -0.14), (0.011, -0.34),
       (0.015, -0.07), (0.019, -0.27), (0.023, -0.12), (0.027, -0.04), (0.031, -0.2), (0.035, 0.02), (0.039, -0.1),
       (0.043, 0.1), (0.047, -0.15), (0.051, 0.05), (0.055, -0.04), (0.059, 0.2), (0.063, -0.12), (0.067, 0.03),
       (0.071, 0.14), (0.075, -0.1), (0.079, 0.0), (0.083, 0.2), (0.087, -0.06), (0.091, 0.1), (0.095, -0.18),
       (0.099, 0.03), (0.103, 0.15), (0.107, -0.09), (0.111, 0.0), (0.115, 0.18), (0.119, -0.13), (0.123, 0.08),
       (0.127, -0.02), (0.131, 0.16), (0.135, -0.1), (0.139, 0.04), (0.143, 0.2), (0.147, -0.08), (0.151, 0.06)]
p12 = [(-0.32, 0.05), (-0.31, -0.1), (-0.3, 0.12), (-0.295, -0.05), (-0.29, 0.42), (-0.285, 0.0), (-0.28, 0.25),
       (-0.275, -0.15), (-0.27, 0.1), (-0.26, 0.32), (-0.255, 0.0), (-0.25, 0.1), (-0.245, -0.05), (-0.24, 0.12),
       (-0.235, -0.3), (-0.23, 0.05), (-0.22, 0.0), (-0.215, 0.15), (-0.21, -0.1), (-0.2, 0.1), (-0.195, 0.02),
       (-0.19, -0.05), (-0.18, 0.2), (-0.175, 0.08), (-0.17, -0.15), (-0.16, 0.0), (-0.155, 0.18), (-0.15, 0.05),
       (-0.145, -0.1), (-0.14, 0.15), (-0.13, -0.05), (-0.125, 0.12), (-0.12, 0.05), (-0.115, -0.2), (-0.11, 0.1),
       (-0.1, -0.3), (-0.095, -0.45), (-0.09, -0.35), (-0.085, -0.6), (-0.08, -0.5), (-0.075, -0.75), (-0.07, -0.45),
       (-0.065, -0.85), (-0.06, -0.55), (-0.055, -0.4), (-0.05, -0.65), (-0.045, -0.9), (-0.04, -0.7),
       (-0.035, -0.5), (-0.03, -0.85), (-0.025, -0.6), (-0.02, -0.95), (-0.015, -0.75), (-0.01, -0.4),
       (-0.005, -0.55), (0.0, -0.8), (0.005, -0.45), (0.01, -0.7), (0.015, -0.4), (0.02, -1.07), (0.025, -0.6),
       (0.03, -0.3), (0.035, -0.5), (0.04, -0.85), (0.045, -0.45), (0.05, -0.65), (0.055, -0.85), (0.06, -0.4),
       (0.065, -0.55), (0.07, -0.3), (0.075, -0.8), (0.08, -0.45), (0.085, -0.2), (0.09, -0.35), (0.095, -0.1),
       (0.11, 0.2), (0.115, 0.05), (0.12, 0.15), (0.125, -0.1), (0.13, 0.1), (0.14, 0.0), (0.145, 0.2),
       (0.15, -0.15), (0.16, 0.12), (0.165, -0.25), (0.17, 0.05), (0.18, 0.15), (0.185, -0.2), (0.19, 0.1),
       (0.2, 0.22), (0.205, 0.0), (0.21, -0.1), (0.22, 0.15), (0.225, 0.05), (0.23, 0.25), (0.24, -0.2), (0.245, 0.1),
       (0.25, 0.0), (0.26, 0.18), (0.27, -0.1), (0.275, 0.12), (0.28, 0.05), (0.29, 0.2), (0.3, -0.05), (0.305, 0.25),
       (0.31, 0.1), (0.315, -0.3)]
p13 = [(-0.17, 0.1), (-0.167, -0.15), (-0.164, 0.25), (-0.161, 0.0), (-0.158, -0.3), (-0.155, 0.15), (-0.152, -0.05),
       (-0.149, 0.35), (-0.146, 0.05), (-0.143, -0.2), (-0.14, 0.1), (-0.137, -0.1), (-0.134, 0.2), (-0.131, -0.35),
       (-0.128, 0.0), (-0.125, 0.15), (-0.122, -0.15), (-0.119, 0.3), (-0.116, 0.05), (-0.113, -0.25), (-0.11, 0.1),
       (-0.107, -0.05), (-0.104, 0.2), (-0.101, -0.15), (-0.098, 0.4), (-0.095, 0.0), (-0.092, -0.2), (-0.089, 0.15),
       (-0.086, -0.05), (-0.083, 0.25), (-0.08, -0.3), (-0.077, 0.05), (-0.074, 0.2), (-0.071, -0.1), (-0.068, 0.1),
       (-0.065, -0.2), (-0.062, 0.05), (-0.059, -0.25), (-0.056, -0.05), (-0.053, -0.4), (-0.05, -0.15),
       (-0.047, 0.1), (-0.044, -0.3), (-0.041, -0.5), (-0.038, -0.1), (-0.035, -0.35), (-0.032, 0.05), (-0.029, -0.2),
       (-0.026, -0.45), (-0.023, -0.05), (-0.02, -0.3), (-0.017, -0.6), (-0.014, -0.15), (-0.011, -0.35),
       (-0.008, 0.0), (-0.005, -0.25), (-0.002, -0.5), (0.001, -0.1), (0.004, -0.3), (0.007, -0.55), (0.01, -0.2),
       (0.013, 0.05), (0.016, -0.4), (0.019, -0.15), (0.022, -0.3), (0.025, -0.05), (0.028, -0.45), (0.031, -0.2),
       (0.034, 0.1), (0.037, -0.35), (0.04, -0.1), (0.043, -0.25), (0.046, 0.0), (0.049, -0.4), (0.052, -0.15),
       (0.055, 0.15), (0.058, -0.1), (0.061, -0.3), (0.064, 0.1), (0.067, -0.15), (0.07, 0.25), (0.073, 0.0),
       (0.076, -0.2), (0.079, 0.15), (0.082, -0.05), (0.085, 0.3), (0.088, 0.05), (0.091, -0.3), (0.094, 0.2),
       (0.097, -0.1), (0.1, 0.1), (0.103, -0.2), (0.106, 0.35), (0.109, 0.0), (0.112, 0.15), (0.115, -0.15),
       (0.118, 0.25), (0.121, 0.05), (0.124, -0.25), (0.127, 0.1), (0.13, -0.05), (0.133, 0.3), (0.136, 0.0),
       (0.139, -0.1), (0.142, 0.2), (0.145, -0.3), (0.148, 0.1), (0.151, 0.3), (0.154, -0.05), (0.157, 0.15),
       (0.16, -0.2), (0.163, 0.05), (0.166, 0.25),
       (-0.168, 0.0), (-0.162, 0.3), (-0.156, -0.15), (-0.15, 0.2), (-0.144, -0.05), (-0.138, 0.3), (-0.132, 0.05),
       (-0.126, -0.25), (-0.12, 0.2), (-0.114, 0.0), (-0.108, -0.3), (-0.102, 0.15), (-0.096, 0.25), (-0.09, -0.1),
       (-0.084, 0.05), (-0.078, 0.3), (-0.072, -0.2), (-0.066, 0.15), (-0.06, -0.1), (-0.054, -0.3), (-0.048, -0.1),
       (-0.042, -0.35), (-0.036, -0.05), (-0.03, -0.4), (-0.024, -0.2), (-0.018, 0.05), (-0.012, -0.45),
       (-0.006, -0.15), (0.0, -0.35), (0.006, 0.0), (0.012, -0.3), (0.018, -0.5), (0.024, -0.2), (0.03, 0.0),
       (0.036, -0.25), (0.042, -0.45), (0.048, -0.05), (0.054, -0.2), (0.06, 0.1), (0.066, 0.2), (0.072, -0.1),
       (0.078, 0.35), (0.084, -0.15), (0.09, 0.1), (0.096, -0.25), (0.102, 0.2), (0.108, -0.05), (0.114, 0.3),
       (0.12, -0.1), (0.126, 0.15), (0.132, -0.2), (0.138, 0.05), (0.144, 0.3), (0.15, -0.1), (0.156, 0.2),
       (0.162, -0.15)]
p14 = [(-0.305, 0.3), (-0.3, -0.1), (-0.29, 0.15), (-0.285, -0.25), (-0.28, 0.05), (-0.27, 0.4), (-0.26, -0.05),
       (-0.255, 0.2), (-0.25, -0.4), (-0.24, 0.1), (-0.23, 0.3), (-0.225, -0.15), (-0.22, 0.05), (-0.21, 0.25),
       (-0.2, -0.1), (-0.195, 0.15), (-0.19, 0.0), (-0.18, 0.35), (-0.17, -0.2), (-0.165, 0.1), (-0.16, 0.2),
       (-0.15, -0.05), (-0.145, 0.4), (-0.14, 0.0), (-0.13, 0.15), (-0.125, -0.3), (-0.12, 0.1), (-0.11, 0.05),
       (-0.1, -0.35), (-0.09, -0.5), (-0.085, -0.2), (-0.08, -0.6), (-0.07, -0.4), (-0.065, -0.7), (-0.06, -0.3),
       (-0.05, -0.55), (-0.045, -0.75), (-0.04, -0.45), (-0.03, -0.6), (-0.025, -0.35), (-0.02, -0.7), (-0.01, -0.5),
       (0.0, -0.65), (0.005, -0.4), (0.01, -0.75), (0.02, -0.55), (0.03, -0.3), (0.035, -0.6), (0.04, -0.45),
       (0.05, -0.7), (0.06, -0.4), (0.065, -0.55), (0.07, -0.2), (0.08, -0.45), (0.09, -0.3), (0.1, -0.1),
       (0.11, 0.2), (0.115, 0.05), (0.12, 0.35), (0.13, -0.1), (0.14, 0.15), (0.145, 0.5), (0.15, 0.0), (0.16, 0.25),
       (0.17, -0.2), (0.18, 0.1), (0.19, 0.4), (0.2, -0.05), (0.21, 0.2), (0.22, -0.3), (0.225, 0.05), (0.23, 0.3),
       (0.24, -0.15), (0.25, 0.1), (0.26, 0.45), (0.27, 0.0), (0.28, -0.2), (0.29, 0.2), (0.3, -0.05), (0.305, 0.35)]
p15 = [(-0.17, 0.1), (-0.167, -0.2), (-0.164, 0.15), (-0.16, 0.0), (-0.157, -0.1), (-0.154, 0.2), (-0.15, -0.3),
       (-0.147, 0.05), (-0.144, 0.1), (-0.14, -0.15), (-0.137, 0.25), (-0.134, 0.0), (-0.13, 0.3), (-0.127, -0.05),
       (-0.124, 0.1), (-0.12, -0.25), (-0.117, 0.15), (-0.114, 0.05), (-0.11, 0.35), (-0.107, -0.1), (-0.104, 0.2),
       (-0.1, 0.0), (-0.097, -0.2), (-0.094, 0.15), (-0.09, 0.05), (-0.087, -0.05), (-0.084, 0.2), (-0.08, -0.15),
       (-0.077, 0.1), (-0.074, 0.0), (-0.07, 0.15), (-0.066, -0.05), (-0.063, -0.2), (-0.06, -0.1), (-0.057, -0.35),
       (-0.054, -0.25), (-0.05, -0.45), (-0.047, -0.3), (-0.044, -0.55), (-0.04, -0.4), (-0.037, -0.6),
       (-0.034, -0.5), (-0.03, -0.35), (-0.027, -0.65), (-0.024, -0.45), (-0.02, -0.55), (-0.017, -0.75),
       (-0.014, -0.4), (-0.01, -0.6), (-0.007, -0.5), (-0.004, -0.85), (0.0, -0.45), (0.003, -0.6), (0.006, -0.95),
       (0.01, -0.55), (0.013, -0.4), (0.016, -0.65), (0.02, -0.5), (0.023, -0.3), (0.026, -0.6), (0.03, -0.45),
       (0.033, -0.25), (0.036, -0.5), (0.04, -0.35), (0.043, -0.15), (0.046, -0.4), (0.05, -0.2), (0.053, -0.3),
       (0.056, 0.0), (0.06, -0.15), (0.066, 0.1), (0.07, -0.1), (0.074, 0.2), (0.077, 0.0), (0.08, -0.2),
       (0.084, 0.15), (0.087, 0.05), (0.09, -0.1), (0.094, 0.25), (0.097, 0.0), (0.1, -0.25), (0.104, 0.1),
       (0.107, 0.3), (0.11, -0.05), (0.114, 0.15), (0.117, -0.15), (0.12, 0.05), (0.124, 0.2), (0.127, -0.1),
       (0.13, 0.1), (0.134, 0.0), (0.137, -0.3), (0.14, 0.15), (0.144, 0.05), (0.147, -0.15), (0.15, 0.2),
       (0.154, 0.0), (0.157, -0.05), (0.16, 0.15), (0.164, -0.2), (0.167, 0.1)]
p16 = [(-0.26, 0.5), (-0.25, -0.5), (-0.24, 0.8), (-0.23, 0.0), (-0.22, -0.6), (-0.21, 0.4), (-0.2, -0.2),
       (-0.19, 0.7), (-0.18, -0.4), (-0.17, 0.2), (-0.16, -0.8), (-0.15, 0.5), (-0.14, 0.0), (-0.13, -0.5),
       (-0.12, 0.6), (-0.11, -0.3), (-0.1, 0.3), (-0.095, -0.7), (-0.09, 0.0), (-0.25, 0.2), (-0.215, 0.9),
       (-0.185, -0.9), (-0.155, 0.3), (-0.125, -0.1), (-0.105, 0.8), (-0.088, -3), (-0.085, -6), (-0.082, -9),
       (-0.079, -12), (-0.076, -15), (-0.073, -18), (-0.07, -20), (-0.067, -21), (-0.064, -23), (-0.06, -22.5),
       (-0.056, -25), (-0.052, -24), (-0.048, -26.5), (-0.044, -25.5), (-0.04, -27), (-0.036, -28.5), (-0.032, -26),
       (-0.028, -29), (-0.024, -27.5), (-0.02, -30), (-0.016, -28), (-0.012, -26.5), (-0.008, -29.5), (-0.004, -27),
       (0.0, -31), (0.004, -28), (0.008, -26), (0.012, -29), (0.016, -27.5), (0.02, -30), (0.024, -28.5),
       (0.028, -26), (0.032, -28), (0.036, -27), (0.04, -29), (0.044, -25.5), (0.048, -26.5), (0.052, -24.5),
       (0.056, -25.5), (0.06, -23), (0.064, -21.5), (0.068, -19), (0.072, -16), (0.075, -13), (0.078, -10),
       (0.081, -7), (0.084, -4), (0.087, -1.5), (0.09, 0.5), (0.1, -0.4), (0.11, 0.7), (0.12, 0.0), (0.13, -0.6),
       (0.14, 0.4), (0.15, 1.0), (0.16, -0.2), (0.17, 0.5), (0.18, -0.7), (0.19, 0.2), (0.2, 0.8), (0.21, -0.3),
       (0.22, 0.4), (0.23, -0.5), (0.24, 0.6), (0.25, 0.0), (0.26, 0.3), (-0.055, -12), (0.095, 1.0), (0.12, -1.0)]
p17 = [(-0.21, 0.02), (-0.2, 0.05), (-0.195, -0.02), (-0.19, 0.03), (-0.18, 0.0), (-0.175, 0.04), (-0.165, -0.03),
       (-0.16, 0.02), (-0.15, 0.05), (-0.14, -0.01), (-0.135, 0.03), (-0.125, 0.0), (-0.12, -0.03), (-0.11, 0.02),
       (-0.1, 0.04), (-0.09, -0.02), (-0.085, 0.01), (-0.075, -0.08), (-0.07, -0.2), (-0.065, -0.3), (-0.06, -0.25),
       (-0.055, -0.38), (-0.05, -0.42), (-0.045, -0.35), (-0.04, -0.48), (-0.035, -0.45), (-0.03, -0.55),
       (-0.025, -0.5), (-0.02, -0.42), (-0.015, -0.52), (-0.01, -0.6), (-0.005, -0.48), (0.0, -0.55), (0.005, -0.45),
       (0.01, -0.58), (0.015, -0.5), (0.02, -0.6), (0.025, -0.47), (0.03, -0.42), (0.035, -0.5), (0.04, -0.38),
       (0.045, -0.45), (0.05, -0.32), (0.055, -0.28), (0.06, -0.2), (0.065, -0.12), (0.07, -0.05), (0.08, 0.03),
       (0.09, -0.02), (0.1, 0.04), (0.11, 0.01), (0.12, -0.03), (0.13, 0.05), (0.14, 0.0), (0.15, 0.03),
       (0.16, -0.02), (0.17, 0.02), (0.18, 0.05), (0.19, -0.01), (0.2, 0.03), (0.21, 0.0)]
p18 = [(-0.205, 0.05), (-0.2, -0.05), (-0.195, 0.12), (-0.19, 0.0), (-0.185, 0.2), (-0.18, -0.03), (-0.175, 0.08),
       (-0.17, -0.1), (-0.165, 0.15), (-0.16, 0.02), (-0.155, -0.06), (-0.15, 0.1), (-0.145, 0.25), (-0.14, -0.02),
       (-0.135, 0.06), (-0.13, -0.12), (-0.125, 0.14), (-0.12, 0.0), (-0.115, 0.08), (-0.11, -0.05), (-0.105, 0.18),
       (-0.1, 0.03), (-0.095, -0.08), (-0.09, 0.1), (-0.085, 0.2), (-0.08, -0.04), (-0.075, -0.12), (-0.07, 0.0),
       (-0.065, -0.18), (-0.06, -0.08), (-0.055, -0.22), (-0.05, -0.1), (-0.045, 0.02), (-0.04, -0.2),
       (-0.035, -0.12), (-0.03, -0.25), (-0.025, -0.05), (-0.02, -0.16), (-0.015, -0.28), (-0.01, -0.1),
       (-0.005, -0.2), (0.0, 0.0), (0.005, -0.15), (0.01, -0.25), (0.015, -0.08), (0.02, -0.18), (0.025, -0.02),
       (0.03, -0.22), (0.035, -0.12), (0.04, -0.28), (0.045, -0.05), (0.05, -0.15), (0.055, -0.22), (0.06, -0.1),
       (0.065, 0.0), (0.07, -0.18), (0.075, -0.08), (0.085, 0.05), (0.09, -0.05), (0.095, 0.15), (0.1, 0.0),
       (0.105, 0.08), (0.11, -0.1), (0.115, 0.12), (0.12, 0.03), (0.125, -0.06), (0.13, 0.18), (0.135, 0.05),
       (0.14, -0.02), (0.145, 0.1), (0.15, -0.12), (0.155, 0.07), (0.16, 0.0), (0.165, 0.2), (0.17, -0.05),
       (0.175, 0.1), (0.18, 0.02), (0.185, -0.08), (0.19, 0.14), (0.195, 0.0), (0.2, 0.08), (0.205, -0.1),
       (0.21, 0.12)]
p19 = [(-0.095, 1), (-0.092, -1.5), (-0.089, 2), (-0.086, 0), (-0.083, -2), (-0.08, 1.5), (-0.077, -0.5), (-0.074, 2.5),
       (-0.071, -1), (-0.068, 0.5), (-0.065, -2.5), (-0.062, 1), (-0.059, 3), (-0.056, -1), (-0.053, 0.5), (-0.05, -2),
       (-0.047, 2), (-0.044, 0), (-0.041, -3), (-0.038, 1), (-0.035, -5), (-0.032, -3), (-0.03, -9), (-0.028, -7),
       (-0.026, -14), (-0.024, -11), (-0.022, -19), (-0.02, -16), (-0.018, -24), (-0.016, -21), (-0.014, -30),
       (-0.012, -27), (-0.01, -36), (-0.008, -40), (-0.006, -44), (-0.004, -50), (-0.002, -47), (0, -57), (0.002, -52),
       (0.004, -55), (0.006, -45), (0.008, -42), (0.01, -37), (0.012, -34), (0.014, -28), (0.016, -25), (0.018, -22),
       (0.02, -17), (0.022, -15), (0.024, -10), (0.026, -12), (0.028, -6), (0.03, -4), (0.032, -7), (0.035, -1),
       (0.038, 2), (0.041, -2), (0.044, 3), (0.047, 0), (0.05, 1.5), (0.053, -1.5), (0.056, 2), (0.059, 0), (0.062, 3),
       (0.065, -1), (0.068, 1), (0.071, -2), (0.074, 2), (0.077, 0.5), (0.08, -1), (0.083, 2.5), (0.086, 0), (0.089, 1),
       (0.092, -1.5), (0.095, 2), (0.098, 0.5)]
p20 = [(-0.082, 0.3), (-0.075, 1.0), (-0.068, -0.5), (-0.06, 0.8), (-0.055, 0.2), (-0.048, 1.2), (-0.042, -0.3),
       (-0.036, -3), (-0.03, -5.5), (-0.025, -8.5), (-0.02, -11), (-0.015, -12), (-0.01, -14.5), (-0.005, -13),
       (0, -16.5), (0.004, -14), (0.008, -15), (0.012, -12.5), (0.018, -11), (0.024, -8), (0.03, -5), (0.036, -2.5),
       (0.042, 0.8), (0.048, -0.2), (0.053, 1.0), (0.058, 0.5), (0.064, -0.4), (0.07, 0.9), (0.076, 0.2), (0.082, 0.6)]
p21 = [(-0.06, 0.4), (-0.058, -0.3), (-0.056, 0.8), (-0.054, 0.1), (-0.052, -0.5), (-0.05, 0.5), (-0.048, -0.1),
       (-0.046, 1.0), (-0.044, 0.2), (-0.042, -0.4), (-0.04, 0.6), (-0.038, 0.0), (-0.036, -0.6), (-0.034, 0.3),
       (-0.032, -0.4), (-0.03, -1.0), (-0.028, -0.3), (-0.026, -1.4), (-0.024, -0.8), (-0.022, -2.0), (-0.02, -1.3),
       (-0.018, -2.5), (-0.016, -1.8), (-0.014, -3.0), (-0.012, -2.4), (-0.01, -3.6), (-0.008, -3.0), (-0.006, -4.2),
       (-0.004, -3.6), (-0.002, -4.9), (0, -4.3), (0.001, -5.5), (0.003, -4.6), (0.005, -3.8), (0.007, -4.4),
       (0.009, -3.2), (0.011, -3.7), (0.013, -2.7), (0.015, -3.1), (0.017, -2.0), (0.019, -2.6), (0.021, -1.5),
       (0.023, -2.0), (0.025, -0.9), (0.027, -1.4), (0.029, -0.4), (0.031, -0.9), (0.033, 0.2), (0.035, -0.4),
       (0.037, 0.5), (0.039, -0.2), (0.041, 0.8), (0.043, 0.0), (0.045, -0.5), (0.047, 1.0), (0.049, 0.3),
       (0.051, -0.3), (0.053, 0.6), (0.055, 0.0), (0.057, 0.9), (0.059, -0.4), (0.06, 0.4)]
p22 = [(-0.079, 0.2), (-0.077, -0.3), (-0.075, 0.5), (-0.073, 0.0), (-0.071, -0.4), (-0.069, 0.3), (-0.067, 0.7),
       (-0.065, -0.1), (-0.063, 0.4), (-0.061, -0.5), (-0.059, 0.1), (-0.057, 0.6), (-0.055, -0.2), (-0.053, 0.3),
       (-0.051, -0.3), (-0.049, 0.5), (-0.047, 0.0), (-0.045, -0.4), (-0.043, 0.2), (-0.041, -0.2), (-0.039, 0.4),
       (-0.037, -0.5), (-0.035, 0.0), (-0.033, -0.7), (-0.031, -0.2), (-0.029, -0.9), (-0.027, -0.4), (-0.025, -1.1),
       (-0.023, -0.6), (-0.021, -0.3), (-0.019, -1.0), (-0.017, -0.7), (-0.015, -1.3), (-0.013, -0.5), (-0.011, -1.0),
       (-0.009, -1.4), (-0.007, -0.6), (-0.005, -1.1), (-0.003, -0.8), (-0.001, -1.3), (0.001, -0.5), (0.003, -1.0),
       (0.005, -1.4), (0.007, -0.7), (0.009, -1.2), (0.011, -0.4), (0.013, -0.9), (0.015, -1.3), (0.017, -0.6),
       (0.019, -1.0), (0.021, -0.3), (0.023, -0.8), (0.025, -0.5), (0.027, -1.1), (0.029, -0.2), (0.031, -0.6),
       (0.033, 0.0), (0.035, -0.4), (0.037, 0.2), (0.039, -0.3), (0.041, 0.4), (0.043, -0.1), (0.045, 0.3),
       (0.047, -0.4), (0.049, 0.5), (0.051, 0.0), (0.053, -0.3), (0.055, 0.4), (0.057, 0.1), (0.059, -0.2),
       (0.061, 0.6), (0.063, 0.0), (0.065, -0.4), (0.067, 0.3), (0.069, -0.1), (0.071, 0.5), (0.073, 0.1),
       (0.075, -0.3), (0.077, 0.4), (0.079, 0.0)]
p23 = [(-0.172, 0.3), (-0.165, -0.2), (-0.158, 0.5), (-0.15, 0.0), (-0.143, -0.4), (-0.135, 0.8), (-0.128, 0.2),
       (-0.12, -0.3), (-0.113, 0.4), (-0.105, 0.0), (-0.098, -0.5), (-0.09, 0.3), (-0.083, -0.1), (-0.075, 0.6),
       (-0.068, -0.2), (-0.062, -0.6), (-0.056, -1.5), (-0.05, -1.9), (-0.044, -2.3), (-0.038, -1.8), (-0.032, -2.6),
       (-0.026, -2.2), (-0.02, -2.9), (-0.014, -2.4), (-0.008, -2.0), (-0.002, -2.7), (0.004, -2.3), (0.01, -3.0),
       (0.016, -2.5), (0.022, -2.1), (0.028, -2.8), (0.034, -2.2), (0.04, -1.7), (0.046, -2.4), (0.052, -1.4),
       (0.058, -0.9), (0.064, -0.3), (0.07, 0.4), (0.077, -0.2), (0.085, 0.3), (0.093, 1.0), (0.1, -0.3), (0.108, 0.5),
       (0.115, 0.0), (0.123, 0.7), (0.13, -0.4), (0.138, 0.2), (0.145, -0.1), (0.153, 0.6), (0.16, 0.1), (0.168, -0.3)]
p24 = [(-0.385, 0.3), (-0.37, -0.2), (-0.355, 0.4), (-0.34, 0.0), (-0.325, -0.3), (-0.31, 0.2), (-0.295, 0.5),
       (-0.28, -0.1), (-0.265, 0.3), (-0.25, -0.4), (-0.235, 0.1), (-0.22, 0.4), (-0.205, -0.2), (-0.19, 0.2),
       (-0.175, 0.0), (-0.16, 0.5), (-0.145, -0.3), (-0.13, 0.2), (-0.115, -0.1), (-0.1, 0.4), (-0.09, -0.2),
       (-0.082, -1.5), (-0.078, -3.5), (-0.074, -6), (-0.07, -8), (-0.066, -10.5), (-0.062, -12.5), (-0.058, -14.5),
       (-0.054, -15.5), (-0.05, -17), (-0.045, -16.5), (-0.04, -18), (-0.035, -17.5), (-0.03, -18.5), (-0.025, -17.8),
       (-0.02, -19), (-0.015, -18.2), (-0.01, -19.3), (-0.005, -18.5), (0, -19.5), (0.005, -18.3), (0.01, -19),
       (0.015, -18), (0.02, -18.8), (0.025, -17.6), (0.03, -18.2), (0.035, -17), (0.04, -17.8), (0.045, -16.2),
       (0.05, -16.8), (0.054, -15), (0.058, -13.5), (0.062, -12), (0.066, -10), (0.07, -7.5), (0.074, -5.5),
       (0.078, -3), (0.082, -1), (0.09, 0.4), (0.1, -0.2), (0.115, 0.3), (0.13, 0.0), (0.145, 0.5), (0.16, -0.2),
       (0.175, 0.3), (0.19, 0.1), (0.205, -0.3), (0.22, 0.4), (0.235, 0.0), (0.25, 0.3), (0.265, -0.2), (0.28, 0.2),
       (0.295, 0.5), (0.31, -0.1), (0.325, 0.3), (0.34, -0.3), (0.355, 0.2), (0.37, 0.0), (0.385, 0.4)]
p25 = [(-0.218, 0.05), (-0.212, -0.04), (-0.206, 0.08), (-0.2, 0.0), (-0.194, -0.06), (-0.188, 0.1), (-0.182, 0.02),
       (-0.176, -0.03), (-0.17, 0.06), (-0.164, -0.08), (-0.158, 0.03), (-0.152, 0.12), (-0.146, -0.02), (-0.14, 0.05),
       (-0.134, -0.05), (-0.128, 0.08), (-0.122, 0.0), (-0.116, -0.07), (-0.11, 0.04), (-0.104, 0.1), (-0.098, -0.03),
       (-0.092, 0.02), (-0.086, -0.08), (-0.08, -0.2), (-0.075, -0.3), (-0.07, -0.36), (-0.064, -0.3), (-0.058, -0.4),
       (-0.052, -0.34), (-0.046, -0.42), (-0.04, -0.36), (-0.034, -0.39), (-0.028, -0.44), (-0.022, -0.35),
       (-0.016, -0.41), (-0.01, -0.38), (-0.004, -0.45), (0.002, -0.37), (0.008, -0.42), (0.014, -0.35), (0.02, -0.4),
       (0.026, -0.43), (0.032, -0.36), (0.038, -0.4), (0.044, -0.33), (0.05, -0.38), (0.056, -0.3), (0.062, -0.35),
       (0.068, -0.27), (0.074, -0.2), (0.08, -0.1), (0.086, 0.05), (0.092, -0.02), (0.098, 0.07), (0.104, -0.05),
       (0.11, 0.03), (0.116, 0.09), (0.122, -0.04), (0.128, 0.05), (0.134, -0.08), (0.14, 0.02), (0.146, 0.1),
       (0.152, -0.03), (0.158, 0.06), (0.164, -0.06), (0.17, 0.03), (0.176, 0.08), (0.182, -0.02), (0.188, 0.05),
       (0.194, -0.07), (0.2, 0.02), (0.206, 0.09), (0.212, -0.04), (0.218, 0.03)]
p26 = [(-0.265, 0.05), (-0.255, -0.03), (-0.245, 0.08), (-0.235, 0.0), (-0.225, 0.1), (-0.215, -0.05), (-0.205, 0.03),
       (-0.195, 0.07), (-0.185, -0.02), (-0.175, 0.04), (-0.165, -0.06), (-0.155, 0.02), (-0.145, 0.06),
       (-0.135, -0.03), (-0.125, 0.05), (-0.115, 0.0), (-0.105, 0.08), (-0.095, -0.04), (-0.085, -0.15),
       (-0.078, -0.35), (-0.07, -0.42), (-0.062, -0.48), (-0.055, -0.44), (-0.048, -0.52), (-0.04, -0.47),
       (-0.032, -0.55), (-0.025, -0.5), (-0.018, -0.57), (-0.01, -0.49), (-0.003, -0.53), (0.005, -0.58),
       (0.012, -0.5), (0.02, -0.54), (0.028, -0.47), (0.035, -0.53), (0.042, -0.46), (0.05, -0.51), (0.058, -0.44),
       (0.066, -0.4), (0.074, -0.3), (0.082, -0.12), (0.09, 0.02), (0.1, 0.08), (0.11, -0.03), (0.12, 0.05),
       (0.13, 0.0), (0.14, 0.1), (0.15, -0.05), (0.16, 0.06), (0.17, 0.02), (0.18, -0.04), (0.19, 0.09), (0.2, 0.03),
       (0.21, 0.12), (0.22, -0.02), (0.23, 0.06), (0.24, 0.15), (0.25, 0.0), (0.26, 0.08)]
p27 = [(-0.106, 0.05), (-0.103, -0.06), (-0.1, 0.1), (-0.097, 0.0), (-0.094, -0.08), (-0.091, 0.06), (-0.088, 0.13),
       (-0.085, -0.03), (-0.082, 0.04), (-0.079, -0.1), (-0.076, 0.08), (-0.073, 0.0), (-0.07, 0.11), (-0.067, -0.05),
       (-0.064, 0.03), (-0.061, -0.12), (-0.058, 0.06), (-0.055, -0.02), (-0.052, 0.09), (-0.049, -0.07),
       (-0.046, 0.02), (-0.043, -0.1), (-0.04, -0.04), (-0.037, -0.15), (-0.034, -0.08), (-0.031, -0.2),
       (-0.028, -0.12), (-0.025, -0.22), (-0.022, -0.1), (-0.019, -0.25), (-0.016, -0.17), (-0.013, -0.12),
       (-0.01, -0.23), (-0.007, -0.16), (-0.004, -0.27), (-0.001, -0.13), (0.002, -0.2), (0.005, -0.25),
       (0.008, -0.14), (0.011, -0.21), (0.014, -0.1), (0.017, -0.24), (0.02, -0.15), (0.023, -0.19), (0.026, -0.08),
       (0.029, -0.17), (0.032, -0.05), (0.035, -0.12), (0.038, 0.02), (0.041, -0.06), (0.044, 0.07), (0.047, -0.03),
       (0.05, 0.05), (0.053, -0.1), (0.056, 0.1), (0.059, 0.0), (0.062, 0.06), (0.065, -0.06), (0.068, 0.12),
       (0.071, 0.02), (0.074, -0.04), (0.077, 0.08), (0.08, -0.08), (0.083, 0.04), (0.086, 0.1), (0.089, -0.02),
       (0.092, 0.06), (0.095, -0.05)]
p28 = [(-0.205, 0.1), (-0.198, -0.15), (-0.19, 0.25), (-0.183, 0.0), (-0.176, -0.2), (-0.169, 0.15), (-0.162, 0.3),
       (-0.155, -0.1), (-0.148, 0.05), (-0.141, 0.2), (-0.134, -0.15), (-0.127, 0.1), (-0.12, 0.0), (-0.113, 0.35),
       (-0.106, -0.1), (-0.099, 0.15), (-0.092, 0.0), (-0.085, -0.2), (-0.08, -0.6), (-0.076, -1.2), (-0.072, -1.6),
       (-0.068, -1.9), (-0.063, -2.2), (-0.058, -2.0), (-0.053, -2.4), (-0.048, -2.25), (-0.043, -2.5), (-0.038, -2.2),
       (-0.033, -2.65), (-0.028, -2.35), (-0.023, -2.5), (-0.018, -2.8), (-0.013, -2.4), (-0.008, -2.6),
       (-0.003, -2.3), (0.002, -2.7), (0.007, -2.45), (0.012, -2.55), (0.017, -2.3), (0.022, -2.6), (0.027, -2.4),
       (0.032, -2.25), (0.037, -2.5), (0.042, -2.2), (0.047, -2.4), (0.052, -2.1), (0.057, -2.25), (0.062, -1.8),
       (0.067, -1.5), (0.071, -1.1), (0.075, -0.7), (0.079, -0.3), (0.085, 0.1), (0.092, -0.15), (0.099, 0.2),
       (0.106, 0.0), (0.113, -0.2), (0.12, 0.15), (0.127, 0.05), (0.134, -0.1), (0.141, 0.25), (0.148, 0.0),
       (0.155, -0.15), (0.162, 0.1), (0.169, 0.2), (0.176, -0.05), (0.183, 0.1), (0.19, -0.2), (0.197, 0.15),
       (0.204, 0.0)]

models = [m01, m02, m03, m04, m05, m06, m07, m08, m09, m10, m11, m12, m13, m14, m15,
          m16, m17, m18, m19, m20, m21, m22, m23, m24, m25, m26, m27, m28]
points = [p01, p02, p03, p04, p05, p06, p07, p08, p09, p10, p11, p12, p13, p14, p15,
          p16, p17, p18, p19, p20, p21, p22, p23, p24, p25, p26, p27, p28]

fig, axs = plt.subplots(6, 5, figsize=(13.46, 10.88))
fig.subplots_adjust(left=0.046, right=0.989, top=0.978, bottom=0.036, wspace=0.274, hspace=0.58)
axs = axs.ravel()

for i in range(len(names)):
    ax = axs[i]
    pts = np.array(points[i])
    mod = np.array(models[i])
    ax.scatter(pts[:, 0], pts[:, 1], s=26, color='grey', zorder=1, linewidths=0)
    ax.plot(mod[:, 0], mod[:, 1], color=cols[disp[i]], lw=3, zorder=2)
    ax.set_xlim(xlims[i])
    ax.set_ylim(ylims[i])
    ax.xaxis.set_major_locator(MultipleLocator(xsteps[i]))
    ax.yaxis.set_major_locator(MultipleLocator(ysteps[i]))
    ax.set_title(names[i], fontsize=14.5, pad=1.5)
    ax.tick_params(direction='in', labelsize=8.5)
    ax.text(0.84, 0.14, disp[i], transform=ax.transAxes, color=cols[disp[i]],
            fontsize=9, fontweight='bold', ha='center', va='center')
    if i % 5 == 0 and i < 25:
        ax.set_ylabel('flux [ppt]', fontsize=9)
    if i >= 22:
        ax.set_xlabel('phase [d]', fontsize=9)

for ax in axs[len(names):]:
    ax.axis('off')

fig.savefig('out.png', dpi=100)
